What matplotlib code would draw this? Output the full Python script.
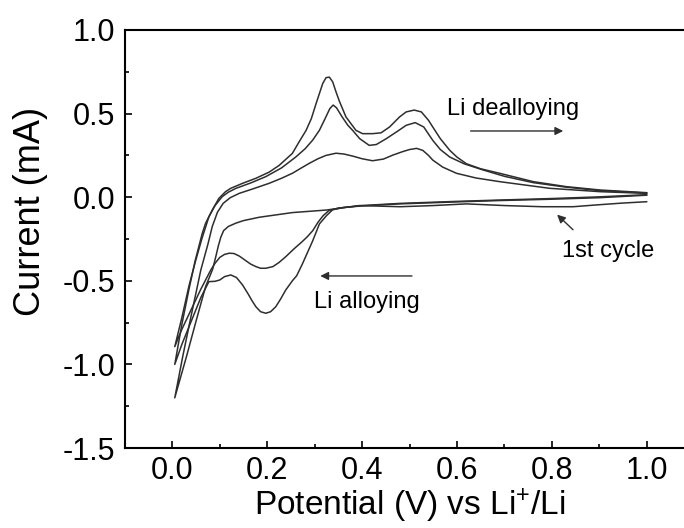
import numpy as np
import matplotlib
matplotlib.use("Agg")
import matplotlib.pyplot as plt
from matplotlib.ticker import MultipleLocator

plt.rcParams['font.family'] = ['Liberation Sans', 'DejaVu Sans']
plt.rcParams['mathtext.fontset'] = 'custom'
plt.rcParams['mathtext.rm'] = 'Liberation Sans'
plt.rcParams['mathtext.it'] = 'Liberation Sans:italic'

# 1st cycle, cathodic (V, mA)
c1_v = [1.0, 0.95, 0.9, 0.845, 0.78, 0.7, 0.62, 0.55, 0.48, 0.394, 0.324, 0.253, 0.183,
        0.15, 0.134, 0.118, 0.108, 0.102, 0.097, 0.092, 0.085, 0.07, 0.05, 0.03, 0.005]
c1_i = [-0.027, -0.035, -0.045, -0.057, -0.057, -0.05, -0.04, -0.05, -0.057, -0.05, -0.077,
        -0.092, -0.12, -0.14, -0.155, -0.175, -0.2, -0.24, -0.29, -0.35, -0.43, -0.535,
        -0.74, -0.95, -1.2]
# 1st cycle, anodic
a1_v = [0.005, 0.022, 0.038, 0.06, 0.075, 0.084, 0.095, 0.107, 0.122, 0.141, 0.17, 0.204,
        0.23, 0.253, 0.272, 0.289, 0.307, 0.324, 0.345, 0.362, 0.38, 0.4, 0.422, 0.445,
        0.465, 0.485, 0.5, 0.515, 0.528, 0.54, 0.549, 0.57, 0.599, 0.64, 0.69, 0.796,
        0.902, 1.0]
a1_i = [-1.2, -0.95, -0.73, -0.435, -0.28, -0.176, -0.09, -0.037, -0.003, 0.023, 0.05,
        0.083, 0.113, 0.143, 0.175, 0.203, 0.23, 0.25, 0.263, 0.258, 0.246, 0.23, 0.218,
        0.228, 0.252, 0.272, 0.285, 0.292, 0.28, 0.25, 0.222, 0.18, 0.143, 0.115, 0.093,
        0.053, 0.033, 0.023]

# 2nd cycle
c2_v = [1.0, 0.9, 0.8, 0.69, 0.6, 0.48, 0.4, 0.35, 0.33, 0.318, 0.307, 0.296, 0.285,
        0.274, 0.256, 0.239, 0.225, 0.212, 0.197, 0.186, 0.176, 0.165, 0.155, 0.141, 0.13,
        0.12, 0.11, 0.1, 0.09, 0.081, 0.06, 0.04, 0.02, 0.005]
c2_i = [0.015, 0.002, -0.008, -0.017, -0.025, -0.037, -0.05, -0.065, -0.08, -0.11, -0.15,
        -0.2, -0.235, -0.265, -0.31, -0.356, -0.39, -0.415, -0.425, -0.425, -0.415, -0.4,
        -0.38, -0.352, -0.337, -0.335, -0.342, -0.36, -0.395, -0.435, -0.55, -0.67, -0.79,
        -0.894]
a2_v = [0.005, 0.02, 0.035, 0.049, 0.062, 0.077, 0.09, 0.105, 0.118, 0.134, 0.165, 0.197,
        0.23, 0.26, 0.28, 0.296, 0.31, 0.322, 0.332, 0.339, 0.346, 0.358, 0.37, 0.38,
        0.395, 0.415, 0.43, 0.451, 0.475, 0.493, 0.512, 0.53, 0.549, 0.565, 0.585, 0.615,
        0.655, 0.7, 0.761, 0.83, 0.902, 1.0]
a2_i = [-0.894, -0.72, -0.53, -0.38, -0.25, -0.117, -0.05, 0.003, 0.03, 0.053, 0.085,
        0.123, 0.175, 0.24, 0.29, 0.342, 0.4, 0.47, 0.53, 0.551, 0.535, 0.48, 0.43, 0.40,
        0.35, 0.31, 0.315, 0.35, 0.395, 0.43, 0.446, 0.42, 0.34, 0.285, 0.24, 0.2, 0.163,
        0.125, 0.087, 0.06, 0.039, 0.025]

# 3rd cycle
c3_v = [1.0, 0.9, 0.8, 0.69, 0.6, 0.48, 0.4, 0.36, 0.338, 0.325, 0.31, 0.296, 0.285, 0.274,
        0.262, 0.253, 0.239, 0.228, 0.218, 0.207, 0.197, 0.186, 0.176, 0.167, 0.16, 0.148,
        0.135, 0.123, 0.11, 0.1, 0.09, 0.077, 0.06, 0.04, 0.02, 0.005]
c3_i = [0.012, -0.003, -0.012, -0.02, -0.028, -0.04, -0.052, -0.062, -0.075, -0.11, -0.16,
        -0.26, -0.33, -0.40, -0.47, -0.5, -0.555, -0.61, -0.655, -0.685, -0.694, -0.685,
        -0.655, -0.615, -0.58, -0.525, -0.48, -0.465, -0.475, -0.495, -0.503, -0.505,
        -0.6, -0.74, -0.88, -1.0]
a3_v = [0.005, 0.02, 0.035, 0.048, 0.063, 0.07, 0.084, 0.098, 0.112, 0.123, 0.148, 0.176,
        0.204, 0.225, 0.253, 0.267, 0.282, 0.293, 0.303, 0.31, 0.317, 0.324, 0.331, 0.338,
        0.345, 0.352, 0.366, 0.387, 0.401, 0.422, 0.44, 0.458, 0.479, 0.493, 0.51, 0.525,
        0.54, 0.549, 0.565, 0.585, 0.6, 0.62, 0.65, 0.69, 0.761, 0.831, 0.902, 1.0]
a3_i = [-1.0, -0.76, -0.55, -0.38, -0.216, -0.156, -0.077, -0.007, 0.033, 0.053, 0.083,
        0.113, 0.15, 0.19, 0.262, 0.33, 0.40, 0.47, 0.56, 0.62, 0.68, 0.715, 0.718, 0.69,
        0.63, 0.575, 0.48, 0.40, 0.38, 0.38, 0.385, 0.42, 0.48, 0.51, 0.521, 0.51, 0.46,
        0.42, 0.35, 0.28, 0.24, 0.2, 0.17, 0.143, 0.093, 0.063, 0.043, 0.027]

cycles = [(c1_v, c1_i, a1_v, a1_i), (c2_v, c2_i, a2_v, a2_i), (c3_v, c3_i, a3_v, a3_i)]

fig = plt.figure(figsize=(6.84, 5.28), dpi=100)
# right spine sits just past the edge of the picture, as in the original
ax = fig.add_axes([0.1827, 0.1515, 0.832, 0.7917])

for cv, ci, av, ai in cycles:
    ax.plot(cv + av, ci + ai, color='#2e2e2e', lw=1.1, solid_joinstyle='round')

ax.set_xlim(-0.1, 1.1)
ax.set_ylim(-1.5, 1.0)
ax.xaxis.set_major_locator(MultipleLocator(0.2))
ax.xaxis.set_minor_locator(MultipleLocator(0.1))
ax.yaxis.set_major_locator(MultipleLocator(0.5))
ax.yaxis.set_minor_locator(MultipleLocator(0.25))
ax.xaxis.set_major_formatter(lambda v, p: '%.1f' % v)
ax.yaxis.set_major_formatter(lambda v, p: '%.1f' % v)
ax.tick_params(which='both', direction='in', top=False, right=False, width=1.2)
ax.tick_params(which='major', length=5, labelsize=22)
ax.tick_params(axis='x', which='major', pad=6)
ax.tick_params(axis='y', which='major', pad=7)
ax.tick_params(which='minor', length=3)
for s in ax.spines.values():
    s.set_linewidth(1.5)

ax.set_xlabel(r'Potential (V) vs Li$^{+}$/Li', fontsize=24, labelpad=0)
ax.set_ylabel('Current (mA)', fontsize=26)
ax.yaxis.set_label_coords(-0.135, 0.567)

ax.text(0.58, 0.492, 'Li dealloying', fontsize=17)
ax.annotate('', xy=(0.83, 0.396), xytext=(0.623, 0.396),
            arrowprops=dict(arrowstyle='-|>', color='#2e2e2e', lw=1.0, mutation_scale=12))
ax.text(0.299, -0.663, 'Li alloying', fontsize=17)
ax.annotate('', xy=(0.306, -0.471), xytext=(0.511, -0.471),
            arrowprops=dict(arrowstyle='-|>', color='#2e2e2e', lw=1.0, mutation_scale=12))
ax.text(0.821, -0.356, '1st cycle', fontsize=17)
ax.annotate('', xy=(0.807, -0.093), xytext=(0.849, -0.206),
            arrowprops=dict(arrowstyle='-|>', color='#2e2e2e', lw=1.0, mutation_scale=12))

fig.savefig('out.png', dpi=100)
